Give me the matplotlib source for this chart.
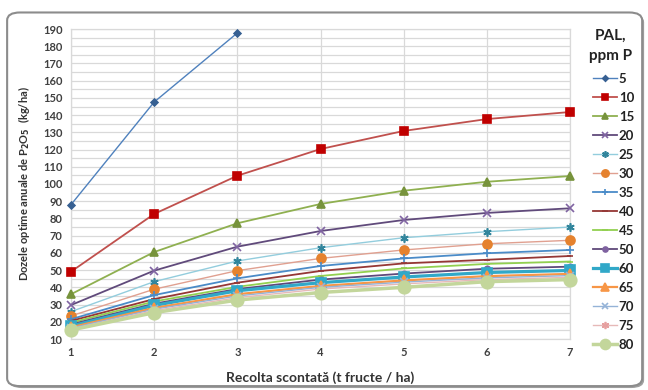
import matplotlib
matplotlib.use("Agg")
import matplotlib.pyplot as plt
from matplotlib.patches import FancyBboxPatch
import numpy as np

plt.rcParams['font.family'] = ['Lato', 'DejaVu Sans']

x_vals = [1, 2, 3, 4, 5, 6, 7]
labels = ['5', '10', '15', '20', '25', '30', '35', '40', '45', '50', '60', '65', '70', '75', '80']

s5 = [88.0, 147.6, 187.7]
s10 = [49.1, 82.6, 104.8, 120.3, 130.8, 137.7, 141.8]
s15 = [36.0, 60.5, 77.2, 88.4, 96.1, 101.3, 104.6]
s20 = [29.7, 49.7, 63.6, 72.7, 79.1, 83.2, 85.9]
s25 = [25.9, 43.3, 55.3, 63.0, 68.8, 72.3, 75.0]
s30 = [23.4, 38.9, 49.7, 56.8, 61.7, 65.3, 67.3]
s35 = [21.5, 35.5, 45.2, 52.4, 56.8, 59.8, 61.7]
s40 = [20.5, 33.2, 42.7, 49.5, 53.9, 56.0, 58.2]
s45 = [19.5, 31.8, 40.3, 46.6, 51.0, 53.6, 55.0]
s50 = [18.5, 30.5, 39.0, 44.5, 48.0, 50.8, 52.0]
s60 = [17.5, 29.5, 38.0, 42.7, 46.0, 48.6, 49.8]
s65 = [16.8, 28.0, 36.0, 40.8, 44.0, 46.5, 47.8]
s70 = [16.3, 27.3, 35.0, 40.0, 43.0, 45.5, 46.8]
s75 = [15.8, 26.5, 34.0, 39.0, 42.0, 44.5, 45.8]
s80 = [15.2, 25.3, 32.6, 37.0, 40.0, 43.3, 44.5]

series = [s5, s10, s15, s20, s25, s30, s35, s40, s45, s50, s60, s65, s70, s75, s80]

# styles: line color, marker, marker color, marker size, line width
styles = [
    ('#4F81BD', 'D', '#376092', 3.5, 1.0),
    ('#C0504D', 's', '#C00000', 5.5, 1.3),
    ('#8FB050', '^', '#77933C', 5.5, 1.3),
    ('#604A7B', 'x', '#8064A2', 5.5, 1.3),
    ('#93CDDD', (6, 2, 0), '#31859C', 6.0, 1.0),
    ('#E0A090', 'o', '#E5822E', 6.5, 1.0),
    ('#4A8BC8', '+', '#4A8BC8', 6.0, 1.3),
    ('#953735', '_', '#953735', 5.0, 1.3),
    ('#92D050', '_', '#92D050', 5.0, 1.3),
    ('#5F497A', 'o', '#7F62A0', 4.5, 1.3),
    ('#31A8C8', 's', '#31A8C8', 7.0, 2.3),
    ('#F79646', '^', '#F79646', 6.5, 1.6),
    ('#95B3D7', 'x', '#95B3D7', 6.0, 1.0),
    ('#E6B9B8', (6, 2, 0), '#E6A0A0', 6.5, 1.0),
    ('#C3D69B', 'o', '#C3D69B', 9.0, 2.5),
]

fig = plt.figure(figsize=(6.48, 3.9), dpi=100)
fig.patch.set_facecolor('white')

# chart frame with shadow
shadow = FancyBboxPatch((0.014, 0.005), 0.98, 0.958, boxstyle="round,pad=0,rounding_size=0.02",
                        transform=fig.transFigure, facecolor='#A0A0A0', edgecolor='none', zorder=-3)
frame = FancyBboxPatch((0.011, 0.010), 0.98, 0.958, boxstyle="round,pad=0,rounding_size=0.02",
                       transform=fig.transFigure, facecolor='white', edgecolor='#8C8C8C', linewidth=1.5, zorder=-2)
fig.patches.extend([shadow, frame])

ax = fig.add_axes([71/648, 1-339/390, (570-71)/648, (339-29)/390])
ax.set_facecolor('none')
ax.set_xlim(1, 7)
ax.set_ylim(10, 190)

for yy in np.arange(10, 191, 5):
    ax.axhline(yy, color='#D9D9D9', lw=0.9, zorder=1)
for xx in x_vals:
    ax.axvline(xx, color='#D9D9D9', lw=0.9, zorder=1)

handles = []
for s, lab, (lc, mk, mc, ms, lw) in zip(series, labels, styles):
    xs = x_vals[:len(s)]
    line, = ax.plot(xs, s, color=lc, lw=lw, marker=mk, markersize=ms,
                    markerfacecolor=mc, markeredgecolor=mc, markeredgewidth=1.2,
                    label=lab, zorder=3, clip_on=False)
    handles.append(line)

ax.set_xticks(x_vals)
ax.set_yticks(np.arange(10, 191, 10))
ax.tick_params(length=0, labelsize=8, colors='#404040', pad=6)
for t in ax.get_xticklabels() + ax.get_yticklabels():
    t.set_fontweight('bold')
for sp in ax.spines.values():
    sp.set_color('#D9D9D9')
    sp.set_linewidth(0.9)

ax.set_xlabel('Recolta scontată (t fructe / ha)', fontsize=10, fontweight='bold', color='#333333', labelpad=9)
ax.set_ylabel('Dozele optime anuale de P$_\\mathbf{2}$O$_\\mathbf{5}$  (kg/ha)', fontsize=8,
              fontweight='bold', color='#333333', labelpad=8)

fig.text(611/648, 1-46/390, 'PAL,\nppm P', ha='center', va='center', fontsize=11,
         fontweight='bold', color='#222222', linespacing=1.6)

leg = fig.legend(handles=handles, loc='upper left', bbox_to_anchor=(593/648, 1-73/390),
                 frameon=False, fontsize=9.5, handlelength=1.8, handletextpad=0.15,
                 labelspacing=0.53, borderaxespad=0, borderpad=0, markerscale=0.8)
for t in leg.get_texts():
    t.set_fontweight('bold')
    t.set_color('#222222')

fig.savefig('out.png', dpi=100, facecolor='white')
